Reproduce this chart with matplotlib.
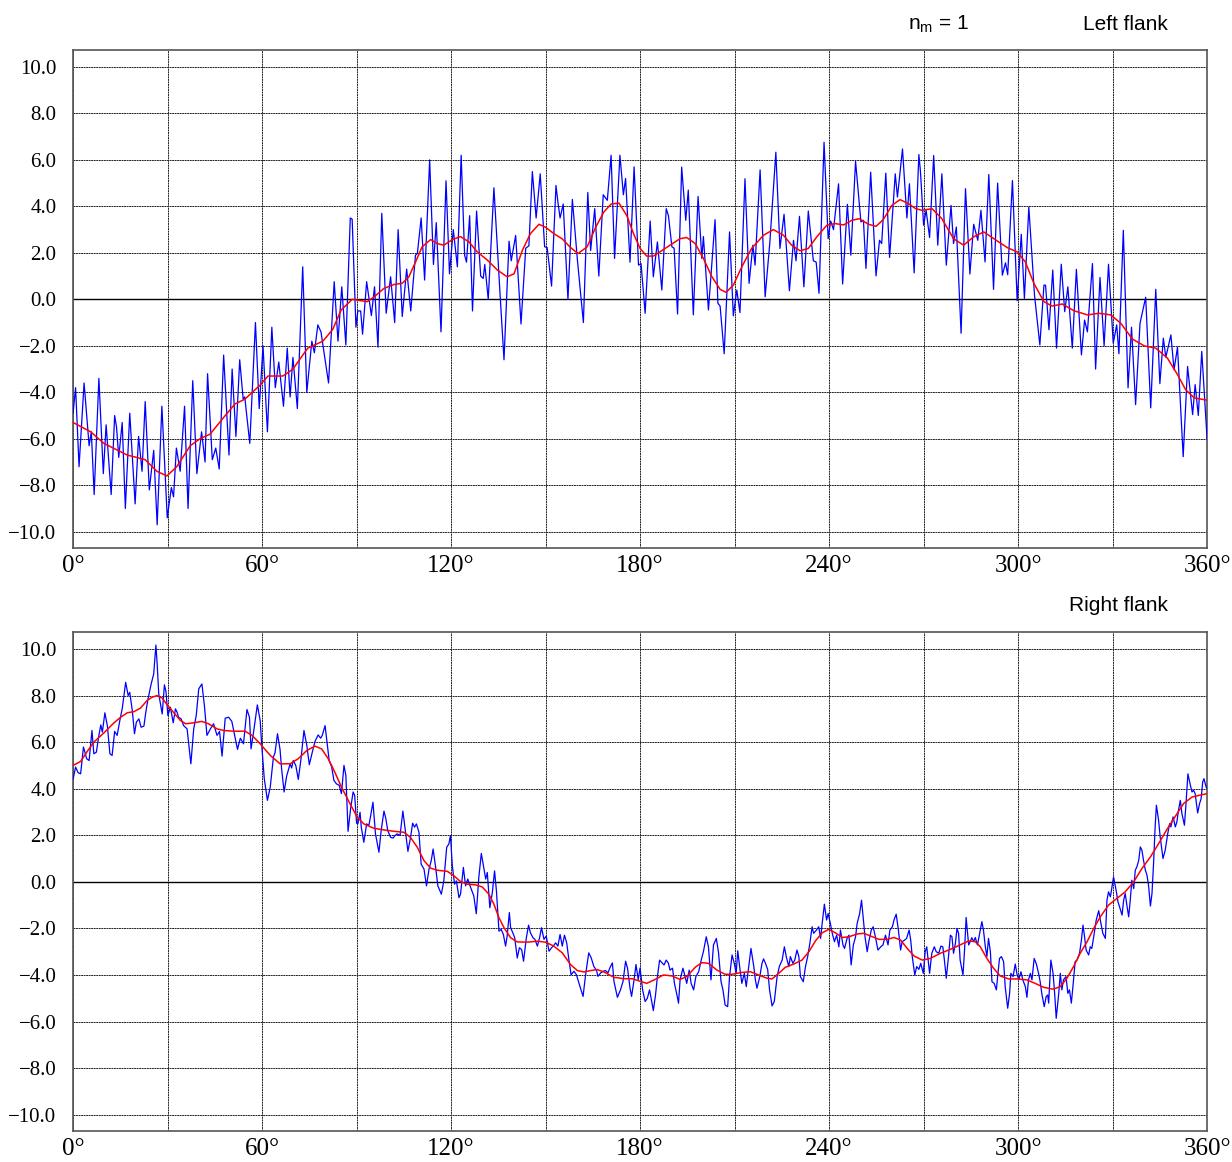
import numpy as np
import matplotlib
matplotlib.use("Agg")
import matplotlib.pyplot as plt

# Left flank: measured deviation (blue) and smoothed curve (red)
left_raw_deg = [
    0, 0.8, 1.9, 3.5, 5.1, 5.8, 6.7, 8.2, 9.6, 10.5,
    12.1, 13.2, 13.8, 14.5, 15.6, 16.6, 18.0, 19.7, 20.8, 21.9,
    22.9, 24.2, 25.6, 26.7, 28.2, 29.9, 31.2, 31.9, 32.8, 34.0,
    35.4, 36.5, 38.0, 39.3, 40.8, 41.9, 42.7, 44.2, 45.3, 46.4,
    47.8, 49.5, 50.5, 51.7, 52.9, 54.0, 54.5, 56.1, 57.9, 59.1,
    60.3, 61.7, 63.1, 64.2, 65.3, 66.8, 68.0, 68.9, 69.8, 71.2,
    72.9, 74.2, 75.8, 76.6, 77.7, 78.7, 81.1, 82.9, 84.1, 85.3,
    86.6, 88.0, 88.6, 89.8, 90.4, 91.3, 91.9, 93.2, 94.7, 95.7,
    96.8, 98.0, 99.4, 100.8, 102.1, 103.2, 104.5, 105.9, 107.2, 108.7,
    109.3, 110.5, 111.6, 113.2, 114.4, 115.3, 116.8, 118.4, 119.5, 120.7,
    122.0, 123.2, 124.3, 124.9, 125.9, 126.8, 128.1, 129.4, 130.2, 130.7,
    131.8, 133.6, 135.5, 136.8, 138.4, 139.1, 140.5, 142.2, 143.7, 144.7,
    145.8, 147.0, 148.3, 149.7, 150.5, 151.9, 153.3, 153.9, 154.6, 155.6,
    157.1, 158.5, 160.1, 162.0, 163.4, 164.3, 165.6, 166.9, 168.3, 169.6,
    170.8, 171.9, 173.6, 174.7, 175.4, 176.8, 178.1, 179.5, 180.3, 181.6,
    183.2, 184.2, 185.5, 186.9, 188.3, 189.0, 190.1, 190.8, 191.9, 193.2,
    194.5, 195.3, 196.9, 198.4, 199.6, 200.1, 201.7, 203.8, 204.7, 205.4,
    206.7, 208.4, 209.6, 210.7, 211.7, 213.3, 214.6, 215.8, 216.5, 218.1,
    219.7, 221.2, 223.1, 224.4, 225.7, 227.4, 228.7, 229.5, 230.6, 232.0,
    233.4, 235.0, 235.9, 236.8, 238.4, 239.7, 240.5, 241.4, 243.0, 244.3,
    245.8, 246.9, 248.4, 250.1, 250.9, 251.7, 253.2, 254.9, 256.0, 256.7,
    258.0, 259.2, 261.0, 261.7, 263.3, 264.7, 265.5, 267.0, 268.5, 269.0,
    270.0, 270.8, 271.9, 273.2, 274.5, 275.8, 277.2, 278.7, 279.5, 280.4,
    281.9, 283.3, 284.7, 285.9, 287.2, 288.2, 289.5, 290.7, 292.2, 293.5,
    295.0, 296.0, 296.7, 298.2, 299.7, 301.0, 302.0, 303.4, 305.2, 306.9,
    308.2, 308.7, 309.8, 311.0, 312.2, 313.7, 314.8, 315.8, 317.2, 318.5,
    320.1, 321.1, 322.0, 323.6, 324.6, 326.0, 327.3, 328.7, 330.2, 331.3,
    332.0, 333.4, 334.9, 336.0, 337.3, 338.7, 340.5, 342.1, 343.7, 345.0,
    346.1, 346.9, 348.5, 349.5, 350.6, 352.4, 353.8, 355.4, 356.2, 357.2,
    358.3, 360.0,
]
left_raw = [
    -4.9, -3.8, -7.2, -3.6, -6.3, -5.7, -8.4, -3.4, -7.5, -5.4,
    -8.4, -5.0, -5.5, -6.8, -5.3, -9.0, -4.9, -8.8, -5.9, -7.4,
    -4.4, -8.2, -6.5, -9.7, -4.6, -9.4, -8.1, -8.5, -6.4, -7.4,
    -4.6, -9.0, -3.5, -7.5, -5.7, -7.0, -3.2, -6.9, -6.4, -7.3,
    -2.4, -6.7, -3.0, -5.9, -2.6, -4.3, -4.2, -6.2, -1.0, -4.7,
    -2.0, -5.7, -1.2, -3.8, -2.7, -4.6, -2.1, -4.2, -2.5, -4.7,
    1.4, -4.0, -1.8, -2.3, -1.1, -1.4, -3.6, 0.76, -1.8, 0.54,
    -1.96, 3.5, 3.45, -1.2, -0.5, -0.5, -1.5, 0.76, -0.7, 0.54,
    -2.06, 3.7, -0.6, 0.97, -1.0, 3.0, -0.74, 1.3, -0.5, 1.9,
    1.97, 3.5, 0.83, 6.0, 1.5, 3.3, -1.4, 5.1, 1.1, 3.0,
    1.4, 6.2, 1.9, 1.6, 3.6, -0.5, 3.8, 1.0, 0.9, 1.5,
    0.0, 4.8, 0.33, -2.6, 2.5, 1.66, 2.75, -1.06, 2.2, 2.3,
    5.5, 3.5, 5.4, 2.26, 2.23, 0.57, 4.9, 4.2, 3.5, 4.1,
    0.0, 4.3, 1.7, -1.0, 4.6, 2.1, 3.9, 1.0, 4.5, 4.26,
    6.2, 1.76, 6.2, 4.5, 5.2, 1.6, 5.7, 1.47, 1.54, -0.6,
    3.37, 0.97, 2.47, 0.4, 3.9, 3.6, 2.26, 2.2, -0.63, 5.69,
    3.4, 4.7, -0.67, 4.43, 1.76, 2.7, -0.46, 3.43, -0.17, -0.29,
    -2.34, 2.9, -0.71, 0.4, -0.57, 5.19, 0.69, 2.33, 1.47, 5.57,
    0.11, 2.47, 6.33, 2.19, 3.66, 0.37, 2.54, 1.66, 3.57, 0.54,
    3.8, 1.66, 1.6, 0.26, 6.76, 2.61, 3.37, 3.0, 4.97, 0.66,
    4.09, 1.9, 5.94, 3.33, 3.4, 1.33, 5.47, 1.01, 2.54, 2.4,
    5.43, 1.8, 5.4, 4.4, 6.47, 3.5, 4.97, 1.14, 6.23, 5.5,
    3.19, 3.83, 2.66, 6.19, 2.33, 5.4, 1.47, 4.04, 2.4, 3.11,
    -1.46, 4.76, 1.09, 3.23, 2.54, 3.83, 1.61, 5.37, 0.43, 5.0,
    1.04, 1.57, 1.06, 5.11, -0.06, 2.8, 0.04, 3.97, 0.19, -1.96,
    0.61, 0.61, -1.31, 1.26, -2.1, 1.51, -0.53, 0.54, -2.1, 1.29,
    -2.39, -0.89, -1.4, 1.54, -3.0, 0.94, -2.0, 1.51, -1.89, -1.1,
    -2.34, 2.97, -3.81, -1.2, -4.53, -1.03, 0.09, -4.67, 0.43, -3.63,
    -1.67, -2.49, -1.53, -3.03, -2.06, -6.77, -2.89, -4.96, -3.67, -5.0,
    -2.24, -6.03,
]
left_smooth_deg = [
    0, 5.6, 9.8, 17.2, 22.9, 26.6, 29.8, 32.9, 37.2, 40.3,
    43.5, 47.7, 51.4, 54.5, 59.3, 61.9, 66.6, 69.8, 74.5, 79.3,
    82.4, 85.1, 88.6, 93.4, 95.5, 98.7, 101.9, 104.5, 106.6, 108.7,
    110.8, 113.5, 115.6, 117.7, 120.4, 123.0, 125.7, 128.3, 131.5, 134.7,
    137.8, 140.0, 142.6, 145.2, 147.9, 150.0, 152.6, 155.3, 157.9, 160.3,
    163.2, 165.9, 168.5, 170.8, 173.3, 175.8, 177.9, 180.0, 182.1, 184.2,
    186.3, 189.5, 192.7, 194.8, 197.5, 200.1, 202.8, 205.4, 207.3, 209.6,
    212.3, 215.4, 219.2, 222.3, 225.5, 228.1, 230.8, 233.4, 236.1, 239.3,
    241.9, 244.6, 247.2, 249.6, 252.5, 254.9, 257.2, 259.9, 262.5, 264.9,
    267.5, 269.5, 272.7, 275.8, 279.5, 282.7, 285.9, 289.1, 292.3, 296.5,
    299.7, 302.3, 305.0, 308.2, 310.8, 314.0, 317.7, 322.0, 325.7, 329.4,
    332.6, 336.3, 340.0, 343.7, 347.4, 350.6, 353.2, 355.9, 360.0,
]
left_smooth = [
    -5.3, -5.7, -6.2, -6.7, -6.9, -7.4, -7.6, -7.2, -6.3, -6.0,
    -5.8, -5.1, -4.5, -4.3, -3.7, -3.3, -3.3, -3.0, -2.1, -1.8,
    -1.3, -0.46, 0.0, -0.1, 0.1, 0.47, 0.64, 0.69, 0.97, 1.6,
    2.26, 2.57, 2.4, 2.33, 2.57, 2.7, 2.47, 2.04, 1.69, 1.26,
    0.97, 1.1, 2.1, 2.83, 3.23, 3.1, 2.83, 2.6, 2.23, 1.97,
    2.26, 3.1, 3.76, 4.1, 4.14, 3.6, 2.83, 2.19, 1.86, 1.86,
    2.04, 2.33, 2.61, 2.66, 2.4, 1.76, 0.97, 0.43, 0.3, 0.61,
    1.4, 2.19, 2.76, 3.0, 2.76, 2.33, 2.09, 2.19, 2.69, 3.19,
    3.26, 3.2, 3.4, 3.47, 3.23, 3.14, 3.43, 4.04, 4.29, 4.14,
    3.9, 3.83, 3.9, 3.47, 2.61, 2.33, 2.69, 2.9, 2.61, 2.23,
    2.04, 1.61, 0.69, -0.1, -0.29, -0.2, -0.49, -0.67, -0.6, -0.67,
    -1.03, -1.71, -2.0, -2.1, -2.53, -3.24, -3.89, -4.24, -4.34,
]

# Right flank
right_raw_deg = [
    0, 0.8, 1.6, 2.4, 3.3, 3.7, 4.3, 5.1, 6.0, 6.6,
    7.4, 8.2, 8.8, 9.3, 10.1, 10.9, 11.7, 12.4, 13.2, 14.0,
    14.9, 15.6, 16.7, 17.5, 18.0, 18.8, 19.5, 20.1, 20.9, 21.6,
    22.5, 23.0, 23.7, 24.8, 25.6, 26.3, 26.7, 27.2, 28.3, 29.0,
    29.5, 30.1, 30.9, 31.8, 32.5, 33.0, 33.5, 34.3, 35.1, 36.2,
    37.4, 38.3, 39.1, 39.9, 40.9, 41.7, 42.5, 43.6, 44.6, 45.7,
    46.5, 47.3, 48.3, 49.4, 50.4, 51.2, 52.2, 53.1, 54.1, 55.2,
    56.0, 56.5, 57.3, 58.5, 59.4, 59.9, 60.7, 61.7, 62.6, 63.6,
    64.1, 64.9, 65.7, 66.2, 67.0, 67.8, 68.9, 69.4, 69.9, 70.7,
    71.5, 72.3, 73.3, 74.2, 75.0, 76.0, 76.8, 77.8, 78.6, 79.1,
    80.0, 80.5, 81.3, 82.1, 82.8, 83.6, 84.5, 85.2, 86.0, 86.6,
    87.3, 88.1, 88.9, 89.4, 90.0, 90.4, 91.1, 91.5, 92.3, 93.2,
    93.9, 94.4, 95.2, 96.0, 97.1, 97.8, 98.7, 99.3, 99.9, 100.8,
    101.6, 102.2, 102.9, 103.8, 104.7, 105.6, 106.3, 107.1, 107.8, 108.4,
    109.0, 109.8, 110.5, 111.4, 112.2, 113.0, 113.7, 114.3, 115.1, 115.8,
    116.9, 117.7, 118.6, 119.3, 119.8, 120.4, 121.1, 121.7, 122.5, 123.0,
    123.9, 124.6, 125.3, 126.2, 127.2, 128.0, 128.8, 129.6, 130.2, 131.0,
    131.5, 132.3, 133.1, 133.8, 134.4, 135.2, 135.9, 136.6, 137.3, 137.8,
    138.5, 138.9, 139.6, 140.2, 141.0, 141.7, 142.4, 143.0, 143.9, 144.6,
    145.2, 146.0, 146.6, 147.4, 148.1, 148.7, 149.5, 150.2, 151.1, 151.9,
    152.4, 153.2, 153.9, 154.6, 155.3, 156.0, 156.7, 157.4, 158.1, 159.0,
    159.8, 160.9, 161.9, 162.7, 163.7, 164.5, 165.3, 166.2, 166.6, 167.5,
    168.3, 169.0, 169.8, 170.4, 171.2, 171.7, 172.8, 173.8, 174.6, 175.4,
    176.0, 176.8, 177.3, 178.1, 178.7, 179.4, 180.0, 180.8, 181.6, 182.3,
    183.0, 183.6, 184.2, 184.9, 185.5, 186.2, 186.9, 187.6, 188.3, 189.0,
    189.5, 190.3, 190.9, 191.7, 192.2, 192.7, 193.6, 194.3, 194.8, 195.6,
    196.2, 197.0, 197.7, 198.6, 199.4, 200.1, 201.0, 201.7, 202.5, 203.3,
    204.2, 204.9, 205.7, 206.3, 207.0, 207.8, 208.4, 209.2, 209.9, 210.5,
    211.0, 211.6, 212.3, 213.1, 213.7, 214.5, 215.2, 216.1, 216.6, 217.1,
    218.0, 218.7, 219.2, 219.8, 220.5, 221.1, 221.9, 222.6, 223.5, 224.2,
    225.1, 225.8, 226.4, 227.2, 227.7, 228.5, 229.1, 229.8, 230.4, 230.9,
    231.8, 232.5, 233.2, 233.9, 234.6, 235.1, 236.0, 236.7, 237.3, 237.8,
    238.5, 239.2, 239.7, 240.4, 241.0, 241.7, 242.4, 243.1, 243.6, 244.4,
    244.9, 245.7, 246.3, 247.0, 247.7, 248.4, 248.9, 249.7, 250.3, 250.8,
    251.4, 252.1, 252.6, 253.4, 254.0, 254.8, 255.5, 256.4, 257.1, 257.9,
    258.7, 259.3, 260.1, 260.6, 261.3, 262.0, 262.7, 263.2, 264.0, 264.6,
    265.4, 265.9, 266.4, 267.2, 267.8, 268.5, 269.1, 269.9, 270.5, 271.0,
    271.9, 272.6, 273.4, 274.0, 274.8, 275.5, 276.1, 276.6, 277.2, 277.9,
    278.5, 279.0, 279.5, 280.1, 280.6, 281.1, 281.6, 282.5, 283.0, 283.5,
    284.3, 284.8, 285.3, 285.9, 286.4, 287.1, 287.8, 288.5, 289.0, 289.6,
    290.1, 290.6, 291.2, 291.7, 292.4, 293.1, 293.5, 294.1, 294.7, 295.4,
    295.9, 296.7, 297.3, 297.7, 298.4, 299.1, 299.6, 300.2, 300.9, 301.5,
    302.3, 302.8, 303.3, 303.9, 304.4, 305.1, 305.8, 306.5, 307.0, 307.6,
    308.3, 308.9, 309.4, 309.7, 310.4, 311.1, 311.6, 312.1, 312.9, 313.4,
    313.9, 314.4, 315.2, 315.8, 316.3, 316.9, 317.6, 318.1, 318.7, 319.5,
    320.1, 320.6, 321.1, 321.6, 322.4, 322.9, 323.4, 324.0, 324.8, 325.6,
    326.3, 326.9, 327.7, 328.2, 328.7, 329.3, 329.8, 330.3, 331.2, 331.7,
    332.2, 333.0, 333.5, 334.0, 334.6, 335.1, 335.6, 336.1, 336.7, 337.2,
    337.7, 338.3, 338.8, 339.3, 339.8, 340.4, 340.9, 341.4, 342.0, 342.5,
    343.0, 343.5, 343.9, 344.6, 345.1, 346.0, 346.7, 347.5, 348.1, 348.5,
    349.2, 349.9, 350.4, 350.9, 351.5, 352.0, 352.8, 353.3, 353.9, 354.7,
    355.2, 355.7, 356.2, 357.0, 357.6, 358.1, 358.6, 359.0, 359.7, 360.0,
]
right_raw = [
    4.4, 4.93, 4.69, 4.64, 5.79, 5.6, 5.29, 5.21, 6.5, 5.5,
    5.57, 6.29, 6.74, 6.43, 7.26, 6.69, 5.5, 5.43, 6.46, 6.29,
    6.97, 7.43, 8.57, 8.0, 8.14, 7.36, 6.36, 6.86, 7.0, 6.64,
    6.69, 7.2, 7.79, 8.5, 8.93, 10.17, 9.36, 8.07, 7.21, 8.46,
    8.17, 7.14, 7.5, 6.83, 7.43, 7.29, 7.07, 7.0, 6.71, 6.57,
    5.07, 6.57, 7.14, 8.29, 8.5, 7.57, 6.29, 6.57, 6.79, 6.29,
    6.46, 5.4, 7.03, 7.07, 6.89, 6.36, 5.69, 6.17, 5.93, 7.4,
    7.07, 5.71, 6.43, 7.6, 6.93, 5.86, 4.43, 3.5, 4.07, 5.36,
    5.54, 6.36, 5.69, 4.86, 3.86, 4.54, 5.07, 4.89, 5.21, 5.0,
    4.4, 5.21, 6.5, 5.86, 5.03, 5.6, 6.03, 6.31, 6.17, 6.29,
    6.71, 6.14, 5.21, 4.93, 4.36, 4.21, 4.14, 3.79, 5.0, 4.57,
    2.17, 3.14, 3.86, 3.71, 2.52, 2.49, 2.99, 2.34, 1.7, 2.49,
    2.42, 2.78, 3.42, 2.06, 1.27, 2.2, 3.04, 2.71, 2.2, 1.91,
    1.88, 1.99, 2.06, 1.99, 3.04, 2.06, 1.31, 1.88, 2.52, 2.35,
    2.49, 2.13, 0.76, 0.55, -0.17, 0.55, 0.91, 1.41, 0.62, -0.17,
    -0.53, 0.04, 1.48, 1.63, 1.99, 0.69, -0.1, 0.04, -0.68, -0.53,
    0.62, -0.17, 0.12, -0.24, -0.6, -1.37, 0.19, 1.22, 0.76, 0.12,
    0.4, -1.11, -0.46, 0.47, -0.39, -2.12, -2.04, -2.26, -2.76, -2.33,
    -1.32, -1.97, -2.19, -2.4, -3.27, -2.83, -2.91, -3.41, -2.4, -1.86,
    -2.19, -2.4, -2.47, -2.76, -2.4, -1.97, -2.47, -2.33, -2.98, -2.83,
    -2.76, -2.62, -2.76, -2.26, -2.76, -2.29, -2.62, -3.34, -3.99, -3.84,
    -3.99, -4.49, -4.92, -3.99, -3.05, -3.27, -3.63, -3.81, -4.06, -3.91,
    -3.84, -3.81, -3.91, -3.7, -3.48, -4.27, -4.96, -4.63, -4.27, -3.41,
    -3.7, -4.56, -4.92, -4.2, -3.55, -4.2, -3.7, -4.64, -5.14, -5.0,
    -4.64, -5.07, -5.53, -4.86, -4.07, -3.36, -3.47, -3.57, -3.36, -3.5,
    -3.79, -3.71, -4.36, -4.86, -5.21, -4.21, -3.71, -4.07, -4.36, -3.79,
    -4.36, -4.64, -4.07, -3.86, -3.36, -3.0, -2.36, -2.79, -4.21, -2.71,
    -2.43, -3.04, -4.29, -4.64, -5.29, -5.36, -4.07, -3.14, -3.5, -3.93,
    -2.96, -3.64, -4.36, -3.93, -4.5, -3.61, -2.86, -3.64, -4.21, -4.57,
    -4.07, -3.5, -3.31, -3.5, -3.76, -4.64, -5.33, -5.14, -4.07, -3.64,
    -3.36, -2.79, -3.21, -3.64, -3.21, -3.5, -3.36, -2.93, -3.21, -4.07,
    -4.29, -3.64, -3.21, -2.64, -1.93, -2.21, -2.07, -1.93, -2.43, -1.79,
    -0.96, -1.64, -1.36, -1.79, -2.21, -2.57, -2.29, -2.79, -2.07, -2.71,
    -2.86, -2.43, -2.29, -3.57, -2.71, -2.36, -1.79, -1.36, -0.79, -1.5,
    -2.36, -3.0, -2.57, -2.07, -1.93, -2.43, -2.93, -2.79, -2.71, -2.29,
    -2.71, -2.07, -1.93, -1.64, -1.39, -2.07, -2.93, -2.57, -2.5, -2.43,
    -2.07, -2.5, -3.21, -4.0, -3.64, -3.76, -3.5, -3.93, -3.0, -2.79,
    -3.93, -3.07, -2.79, -3.0, -3.07, -2.76, -2.79, -3.36, -4.14, -3.21,
    -2.29, -2.36, -3.07, -2.64, -2.0, -2.21, -3.36, -4.0, -2.93, -1.53,
    -2.71, -2.57, -2.4, -2.57, -2.39, -2.71, -2.21, -1.71, -2.07, -2.79,
    -3.21, -2.43, -3.0, -4.29, -4.36, -4.64, -4.07, -3.29, -3.21, -3.43,
    -4.5, -5.43, -4.79, -3.93, -4.07, -3.53, -3.93, -4.21, -3.86, -4.21,
    -4.5, -4.96, -4.21, -3.93, -4.21, -3.29, -3.53, -3.93, -4.29, -4.86,
    -5.36, -4.93, -4.86, -5.21, -3.36, -3.93, -4.79, -5.86, -4.79, -3.93,
    -4.64, -4.21, -4.07, -4.79, -4.64, -5.21, -4.21, -3.43, -3.36, -3.07,
    -2.5, -1.86, -2.36, -2.93, -3.14, -2.79, -2.86, -2.36, -1.64, -1.24,
    -1.79, -2.21, -2.43, -0.79, -0.43, -0.64, -0.21, 0.21, -0.43, -0.86,
    -1.07, -1.43, -0.79, -0.5, -1.07, -1.5, -0.79, 0.07, -0.29, 0.5,
    0.64, 0.93, 1.5, 1.36, 0.93, 0.5, 0.29, -0.14, -1.04, -0.5,
    0.79, 2.36, 3.29, 2.64, 1.93, 1.0, 1.36, 2.07, 2.5, 2.36,
    2.79, 2.36, 2.57, 3.07, 3.5, 2.93, 2.43, 3.36, 4.64, 4.14,
    3.86, 3.93, 3.79, 2.96, 3.36, 3.57, 4.29, 4.43, 4.07, 4.0,
]
right_smooth_deg = [
    0, 2.4, 4.5, 6.6, 9.8, 13.0, 15.1, 17.2, 19.3, 21.4,
    23.5, 25.1, 26.7, 28.3, 29.9, 32.0, 34.1, 35.7, 37.8, 40.9,
    43.0, 45.7, 47.8, 51.0, 54.6, 56.8, 59.4, 62.6, 65.7, 68.9,
    71.5, 74.2, 76.8, 78.9, 81.0, 83.1, 85.2, 87.9, 90.2, 92.3,
    95.5, 98.7, 101.9, 105.0, 107.1, 109.3, 111.4, 113.5, 115.6, 118.8,
    120.9, 123.0, 125.1, 127.8, 129.9, 132.0, 133.6, 135.2, 136.8, 138.9,
    141.0, 144.2, 147.4, 150.0, 152.6, 155.3, 157.9, 160.1, 162.2, 164.3,
    166.4, 168.5, 171.7, 174.9, 177.5, 180.0, 182.1, 184.8, 187.4, 190.1,
    192.7, 194.8, 197.5, 199.6, 201.7, 204.4, 207.0, 209.2, 212.3, 215.0,
    217.6, 220.3, 221.9, 224.0, 226.1, 228.8, 231.4, 233.6, 235.7, 237.8,
    239.9, 242.0, 244.2, 246.3, 248.9, 251.0, 253.2, 255.8, 258.5, 260.6,
    262.7, 264.8, 267.0, 269.6, 272.1, 275.3, 278.5, 281.6, 284.3, 286.4,
    288.0, 290.1, 292.2, 294.3, 297.0, 299.6, 302.8, 305.4, 308.1, 311.1,
    313.4, 315.5, 317.6, 319.7, 321.9, 324.0, 326.1, 328.7, 331.4, 334.0,
    336.7, 339.3, 342.0, 344.6, 347.2, 349.9, 352.5, 355.2, 357.3, 360.0,
]
right_smooth = [
    5.0, 5.17, 5.6, 6.0, 6.4, 6.83, 7.07, 7.26, 7.31, 7.46,
    7.79, 7.93, 8.0, 7.89, 7.6, 7.26, 6.93, 6.79, 6.82, 6.89,
    6.79, 6.57, 6.5, 6.47, 6.47, 6.29, 5.93, 5.43, 5.07, 5.07,
    5.29, 5.64, 5.83, 5.71, 5.29, 4.71, 4.07, 3.36, 2.78, 2.49,
    2.3, 2.23, 2.17, 2.13, 1.91, 1.48, 0.91, 0.59, 0.5, 0.45,
    0.26, 0.01, -0.1, -0.13, -0.22, -0.53, -0.96, -1.54, -1.97, -2.4,
    -2.58, -2.59, -2.55, -2.59, -2.76, -3.05, -3.55, -3.81, -3.87, -3.81,
    -3.77, -3.87, -4.1, -4.16, -4.16, -4.27, -4.36, -4.19, -4.0, -4.04,
    -4.19, -4.07, -3.67, -3.47, -3.5, -3.79, -3.97, -3.97, -3.89, -3.86,
    -4.0, -4.14, -4.17, -3.93, -3.67, -3.53, -3.36, -3.0, -2.53, -2.19,
    -2.04, -2.19, -2.39, -2.36, -2.24, -2.21, -2.33, -2.47, -2.47, -2.39,
    -2.5, -2.86, -3.19, -3.36, -3.29, -3.07, -2.9, -2.71, -2.54, -2.57,
    -2.79, -3.29, -3.71, -4.04, -4.17, -4.17, -4.21, -4.36, -4.53, -4.61,
    -4.5, -4.14, -3.64, -3.07, -2.57, -2.0, -1.5, -1.0, -0.71, -0.43,
    0.0, 0.57, 1.07, 1.64, 2.24, 2.81, 3.36, 3.64, 3.71, 3.79,
]

x_ticks = [0, 60, 120, 180, 240, 300, 360]
x_labels = ["0°", "60°", "120°", "180°", "240°", "300°", "360°"]
y_ticks = [-10, -8, -6, -4, -2, 0, 2, 4, 6, 8, 10]

plt.rcParams['mathtext.fontset'] = 'custom'
plt.rcParams['mathtext.rm'] = 'Liberation Sans'
plt.rcParams['mathtext.it'] = 'Liberation Sans'

fig = plt.figure(figsize=(12.32, 11.62), dpi=100)
ax_top = fig.add_axes([0.0593, 0.5284, 0.9205, 0.4286])
ax_bot = fig.add_axes([0.0593, 0.0267, 0.9205, 0.4294])

panels = [
    (ax_top, left_raw_deg, left_raw, left_smooth_deg, left_smooth),
    (ax_bot, right_raw_deg, right_raw, right_smooth_deg, right_smooth),
]

for ax, rd, rv, sd, sv in panels:
    ax.plot(rd, rv, color='#0000ff', lw=0.9, zorder=3)
    ax.plot(sd, sv, color='#ff0000', lw=1.1, zorder=4)

    ax.set_xlim(0, 360)
    ax.set_ylim(-10.7, 10.73)
    ax.set_xticks(x_ticks)
    ax.set_xticks(range(30, 360, 60), minor=True)
    ax.set_xticklabels(x_labels, family='Liberation Serif', fontsize=18)
    ax.set_yticks(y_ticks)
    ax.set_yticklabels([f"{v:.1f}".replace("-", "\u2212") for v in y_ticks],
                       family='Liberation Serif', fontsize=15)
    ax.tick_params(axis='both', which='both', length=0)
    ax.tick_params(axis='x', pad=5)
    ax.tick_params(axis='y', pad=12)

    # fine, nearly solid grid like the original
    ax.grid(True, which='both', axis='x', color='#222222', lw=0.7, ls=(0, (2, 0.6)))
    ax.grid(True, which='major', axis='y', color='#222222', lw=0.7, ls=(0, (2, 0.6)))
    ax.axhline(0, color='black', lw=1.0, zorder=2)
    ax.set_axisbelow(True)
    for s in ax.spines.values():
        s.set_color('#555555')
        s.set_linewidth(1.2)

fig.text(0.762, 0.979, r'$\mathrm{n_m}$ = 1', family='Liberation Sans',
         fontsize=15, ha='center', va='center')
fig.text(0.948, 0.979, 'Left flank', family='Liberation Sans',
         fontsize=15, ha='right', va='center')
fig.text(0.948, 0.4785, 'Right flank', family='Liberation Sans',
         fontsize=15, ha='right', va='center')

fig.savefig("out.png", dpi=100)
